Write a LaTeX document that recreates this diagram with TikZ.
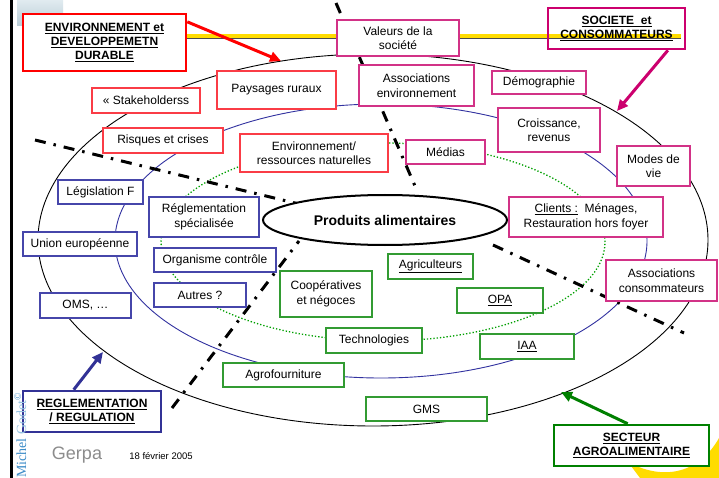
\documentclass[tikz,border=0pt]{standalone}
\usepackage{fontspec}
\setmainfont{Liberation Sans}
\newfontfamily\mgfont{Liberation Serif}
\usetikzlibrary{shapes.geometric,arrows.meta}
\definecolor{cRedL}{RGB}{255,0,0}
\definecolor{cRed}{RGB}{250,60,70}
\definecolor{cPinkL}{RGB}{204,0,110}
\definecolor{cPink}{RGB}{210,50,135}
\definecolor{cBlueL}{RGB}{50,50,150}
\definecolor{cBlue}{RGB}{70,70,170}
\definecolor{cGreenL}{RGB}{0,128,0}
\definecolor{cGreen}{RGB}{50,155,50}
\definecolor{cEll}{RGB}{50,50,160}
\definecolor{cDot}{RGB}{0,160,0}
\definecolor{cYel}{RGB}{255,220,0}
\definecolor{cMG}{RGB}{60,140,200}
\definecolor{cMGb}{RGB}{150,195,225}
\definecolor{cGerpa}{RGB}{140,140,140}
\definecolor{cLogoA}{RGB}{185,205,215}
\definecolor{cLogoB}{RGB}{225,235,240}
\begin{document}
\begin{tikzpicture}[x=1pt,y=-1pt,
  every node/.style={font=\fontsize{12}{14.5}\selectfont},
  bx/.style={draw, fill=white, line width=1.1pt, inner sep=0pt, align=center},
  rbx/.style={bx, draw=cRed},
  pbx/.style={bx, draw=cPink},
  bbx/.style={bx, draw=cBlue},
  gbx/.style={bx, draw=cGreen},
  lbl/.style={draw, line width=2.6pt, inner sep=0pt, align=center, font=\fontsize{12}{14}\selectfont\bfseries},
  sepline/.style={line width=3pt, dash pattern=on 11pt off 8pt on 2.5pt off 8pt},
  arr/.style={line width=3pt, -{Triangle[length=11pt,width=10pt]}},
]
\useasboundingbox (0,0) rectangle (719,478);
\fill[white] (0,0) rectangle (719,478);

% left bar and logo
\draw[line width=3pt] (11,0) -- (11,478);
\shade[top color=cLogoB, bottom color=cLogoA] (17,0) rectangle (63,26);

% yellow blob bottom right
\fill[cYel] (628,462) .. controls (665,482) and (700,472) .. (719,438) -- (719,478) -- (640,478) -- cycle;

% ellipses
\draw[line width=0.9pt] (373,240) ellipse [x radius=335pt, y radius=186pt];
\draw[cEll, line width=0.9pt] (381,241) ellipse [x radius=266pt, y radius=137pt];
\draw[cDot, line width=1.3pt, dotted] (383,242) ellipse [x radius=222pt, y radius=99pt];

% yellow title rule
\draw[gray!60!black, line width=1pt] (186,38.5) -- (681,38.5);
\draw[cYel, line width=3.2pt] (186,36) -- (681,36);

% separating dash-dot lines
\coordinate (s1a) at (336,3);   \coordinate (s1b) at (415,186);
\coordinate (s2a) at (35,140);  \coordinate (s2b) at (299,204);
\coordinate (s3a) at (493,245); \coordinate (s3b) at (684,333);
\coordinate (s4a) at (172,408); \coordinate (s4b) at (299,241);
\draw[sepline] (s1a) -- (s1b);
\draw[sepline] (s2a) -- (s2b);
\draw[sepline] (s3a) -- (s3b);
\draw[sepline] (s4a) -- (s4b);

% category labels
\node[lbl, draw=cRedL, fill=white, minimum width=163pt, minimum height=57pt] (envlbl) at (104.5,42.5)
  {\underline{ENVIRONNEMENT et}\\\underline{DEVELOPPEMETN}\\\underline{DURABLE}};
\node[lbl, draw=cPinkL, minimum width=137pt, minimum height=41pt] (soclbl) at (616.5,28.5)
  {\underline{SOCIETE\ \ et}\\\underline{CONSOMMATEURS}};
\node[lbl, draw=cBlueL, fill=white, minimum width=138pt, minimum height=41pt] (reglbl) at (92,411.5)
  {\underline{REGLEMENTATION}\\\underline{/ REGULATION}};
\node[lbl, draw=cGreenL, fill=white, minimum width=155pt, minimum height=41pt] (seclbl) at (631.5,445.5)
  {\underline{SECTEUR}\\\underline{AGROALIMENTAIRE}};

\coordinate (envT) at (281,61);
\coordinate (socT) at (617,111);
\coordinate (regT) at (103,352);
\coordinate (secT) at (561,392);
\draw[arr, cRedL] (envlbl.14) -- (envT);
\draw[arr, cPinkL] (soclbl.-23) -- (socT);
\draw[arr, cBlueL] (reglbl.130) -- (regT);
\draw[arr, cGreenL] (seclbl.100) -- (secT);

% red boxes
\node[rbx, minimum width=108pt, minimum height=25pt] (stake) at (146,100.5) {« Stakeholderss};
\node[rbx, minimum width=119pt, minimum height=38pt] (pays) at (276.5,90) {Paysages ruraux};
\node[rbx, minimum width=120pt, minimum height=25pt] (risq) at (163,140.5) {Risques et crises};
\node[rbx, minimum width=148pt, minimum height=38pt] (envres) at (314,153) {Environnement/\\ressources naturelles};

% pink boxes
\node[pbx, minimum width=122pt, minimum height=36pt] (val) at (398,38) {Valeurs de la\\société};
\node[pbx, minimum width=115pt, minimum height=41pt] (assenv) at (416.5,85.5) {Associations\\environnement};
\node[pbx, minimum width=94pt, minimum height=23pt] (demo) at (539,82.5) {Démographie};
\node[pbx, minimum width=102pt, minimum height=44pt] (crois) at (549,130) {Croissance,\\revenus};
\node[pbx, minimum width=79pt, minimum height=24pt] (medias) at (445.5,152) {Médias};
\node[pbx, minimum width=73pt, minimum height=40pt] (modes) at (653.5,166) {Modes de\\vie};
\node[pbx, minimum width=154pt, minimum height=40pt] (clients) at (586,217) {\underline{Clients :}\ \ Ménages,\\Restauration hors foyer};
\node[pbx, minimum width=111pt, minimum height=41pt] (asscons) at (661.5,280.5) {Associations\\consommateurs};

% blue boxes
\node[bbx, minimum width=85pt, minimum height=24pt] (legis) at (100.5,192) {Législation F};
\node[bbx, minimum width=114pt, minimum height=24pt] (union) at (80,244) {Union européenne};
\node[bbx, minimum width=91pt, minimum height=25pt] (oms) at (85.5,305.5) {OMS, …};
\node[bbx, minimum width=110pt, minimum height=40pt] (regl) at (204,217) {Réglementation\\spécialisée};
\node[bbx, minimum width=122pt, minimum height=24pt] (organ) at (215,260) {Organisme contrôle};
\node[bbx, minimum width=92pt, minimum height=24pt] (autres) at (200,295) {Autres ?};

% green boxes
\node[gbx, minimum width=92pt, minimum height=46pt] (coop) at (326,294) {Coopératives\\et négoces};
\node[gbx, minimum width=85pt, minimum height=25pt] (agri) at (430.5,266.5) {\underline{Agriculteurs}};
\node[gbx, minimum width=86pt, minimum height=25pt] (opa) at (500,300.5) {\underline{OPA}};
\node[gbx, minimum width=96pt, minimum height=25pt] (techno) at (374,340.5) {Technologies};
\node[gbx, minimum width=94pt, minimum height=25pt] (iaa) at (527,346.5) {\underline{IAA}};
\node[gbx, minimum width=121pt, minimum height=24pt] (agrof) at (283.5,375) {Agrofourniture};
\node[gbx, minimum width=121pt, minimum height=24pt] (gms) at (426.5,409) {GMS};

% centre
\node[ellipse, draw, line width=2pt, fill=white, inner sep=0pt, minimum width=244pt, minimum height=50pt,
  font=\fontsize{14}{16}\selectfont\bfseries] (prod) at (385,220) {Produits alimentaires};

% footer
\node[text=cGerpa, font=\fontsize{18}{18}\selectfont] (gerpa) at (77,455) {Gerpa};
\node[font=\fontsize{9.5}{10}\selectfont] (date) at (161,456) {18 février 2005};
\node[rotate=90, anchor=base west, inner sep=0pt, font=\mgfont\fontsize{14}{14}\selectfont, text=cMG] (mg) at (26,478)
  {Michel {\color{cMGb}Godet}\textsuperscript{©}};
\end{tikzpicture}
\end{document}
